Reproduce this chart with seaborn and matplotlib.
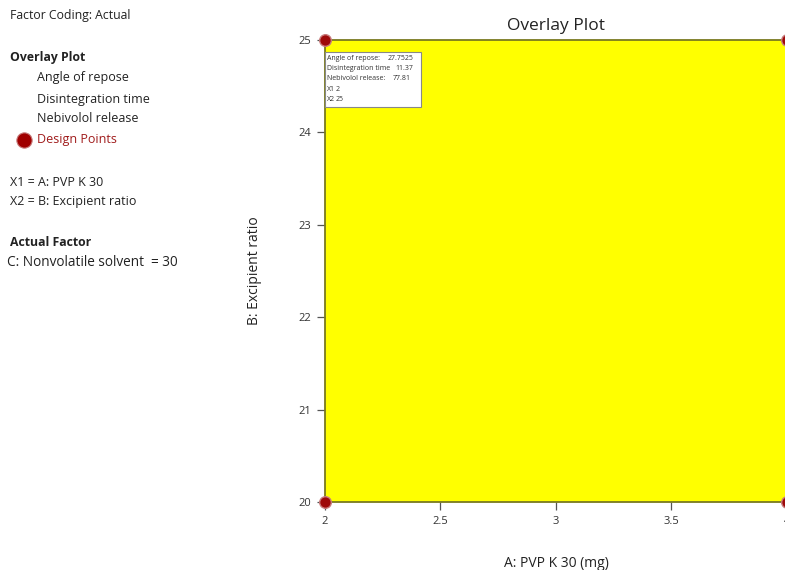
import matplotlib
matplotlib.use("Agg")
import matplotlib.pyplot as plt
import seaborn as sns
import pandas as pd

sns.set_style("white")
plt.rcParams["font.family"] = ["Open Sans", "DejaVu Sans"]

# Design space (factor ranges)
pvp_range = [2.0, 4.0]
ratio_range = [20.0, 25.0]

# Design points (corners of the design space)
design_pvp = [2, 2, 4, 4]
design_ratio = [20, 25, 20, 25]

x_ticks = [2, 2.5, 3, 3.5, 4]
x_tick_labels = ["2", "2.5", "3", "3.5", "4"]
y_ticks = [20, 21, 22, 23, 24, 25]

# Flag point readout
flag_labels = ["Angle of repose:", "Disintegration time", "Nebivolol release:", "X1", "X2"]
flag_values = ["27.7525", "11.37", "77.81", "2", "25"]

fig = plt.figure(figsize=(7.85, 5.70), dpi=100)
ax = fig.add_axes([0.414, 0.1193, 0.5885, 0.8105])

# Sweet-spot region (all responses within limits) fills the design space
ax.fill_between(pvp_range, [ratio_range[0]] * 2, [ratio_range[1]] * 2,
                color="#FFFF00", zorder=0, linewidth=0)

df = pd.DataFrame({"A": design_pvp, "B": design_ratio})
sns.scatterplot(data=df, x="A", y="B", ax=ax, s=70, color="#9E0A0A",
                edgecolor="#C77A7A", linewidth=1.0, zorder=5, clip_on=False)

ax.set_xlim(pvp_range)
ax.set_ylim(ratio_range)
ax.set_xticks(x_ticks)
ax.set_xticklabels(x_tick_labels)
ax.set_yticks(y_ticks)
for sp in ax.spines.values():
    sp.set_color("#7A7A20")
    sp.set_linewidth(1.3)
ax.tick_params(axis="both", direction="out", length=6, width=0.9, color="#555555",
               labelsize=8, labelcolor="#333333", pad=4, left=True, bottom=True)
ax.set_xlabel("A: PVP K 30 (mg)", fontsize=10, color="#222222", labelpad=21)
ax.set_ylabel("B: Excipient ratio", fontsize=10, color="#222222", labelpad=26)
ax.set_title("Overlay Plot", fontsize=12.5, color="#222222", pad=7)

# Flag box
box_x0 = 2.0
ax.add_patch(plt.Rectangle((box_x0, 24.28), 0.415, 24.87 - 24.28,
                           facecolor="white", edgecolor="#888888",
                           linewidth=0.8, zorder=6))
value_x = [2.272, 2.305, 2.295, 2.045, 2.045]
for i, (lab, val) in enumerate(zip(flag_labels, flag_values)):
    yy = 24.805 - i * 0.113
    ax.text(box_x0 + 0.01, yy, lab, fontsize=5.0, color="#333333",
            va="center", zorder=7)
    ax.text(value_x[i], yy, val, fontsize=5.0, color="#333333", va="center", zorder=7)

# Left-hand legend/notes panel
def note(y, s, **kw):
    fig.text(kw.pop("x", 10) / 785, 1 - y / 570, s, va="center",
             fontsize=kw.pop("fontsize", 9), color=kw.pop("color", "#222222"), **kw)

note(16, "Factor Coding: Actual", fontsize=8.8)
note(58, "Overlay Plot", fontweight="bold", fontsize=8.8)
note(78, "Angle of repose", x=37)
note(99, "Disintegration time", x=37)
note(119, "Nebivolol release", x=37)
note(140, "Design Points", x=37, color="#A01C1C")
fig.add_artist(plt.Line2D([24 / 785], [1 - 140 / 570], transform=fig.transFigure,
                          marker="o", markersize=11, markerfacecolor="#A00000",
                          markeredgecolor="#C77A7A", markeredgewidth=0.8, linestyle="none"))
note(182, "X1 = A: PVP K 30")
note(202, "X2 = B: Excipient ratio")
note(243, "Actual Factor", fontweight="bold", fontsize=8.8)
note(263, "C: Nonvolatile solvent  = 30", x=7, fontsize=9.8)

fig.savefig("out.png", dpi=100)
